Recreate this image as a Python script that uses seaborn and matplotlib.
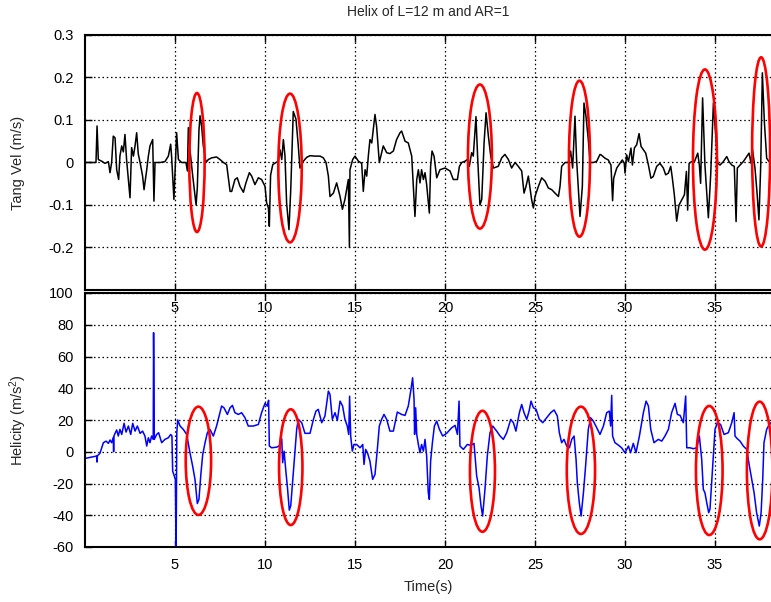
import matplotlib
matplotlib.use("Agg")
import matplotlib.pyplot as plt
from matplotlib.patches import Ellipse
import numpy as np
import pandas as pd
import seaborn as sns

# Tangential velocity record (m/s) against time (s)
tang_t = [0.0, 0.61, 0.67, 0.74, 0.93, 1.11, 1.30, 1.39, 1.48, 1.57, 1.67, 1.76, 1.87, 1.94,
          2.04, 2.13, 2.22, 2.31, 2.50, 2.59, 2.69, 2.78, 2.87, 2.96, 3.06, 3.20, 3.28, 3.43,
          3.52, 3.61, 3.76, 3.83, 3.89, 4.17, 4.44, 4.63, 4.76, 4.81, 4.94, 5.09, 5.19, 5.37,
          5.61, 5.69, 5.74, 5.83, 5.98, 6.17, 6.24, 6.33, 6.39, 6.48, 6.57, 6.72, 6.85, 7.04,
          7.31, 7.50, 7.69, 7.87, 8.06, 8.15, 8.33, 8.46, 8.61, 8.80, 8.94, 9.13, 9.26, 9.44,
          9.63, 9.81, 10.0, 10.09, 10.19, 10.24, 10.31, 10.43, 10.61, 10.74, 10.83, 10.93,
          11.02, 11.11, 11.20, 11.33, 11.43, 11.57, 11.72, 11.85, 11.94, 12.13, 12.31, 12.5,
          12.78, 13.06, 13.24, 13.39, 13.52, 13.61, 13.80, 13.98, 14.17, 14.30, 14.44, 14.63,
          14.69, 14.72, 14.87, 15.0, 15.19, 15.37, 15.46, 15.56, 15.65, 15.74, 15.83, 15.93,
          16.11, 16.20, 16.35, 16.57, 16.76, 16.94, 17.13, 17.31, 17.50, 17.59, 17.78, 17.96,
          18.15, 18.24, 18.33, 18.43, 18.52, 18.61, 18.70, 18.80, 18.89, 18.98, 19.13, 19.20,
          19.28, 19.39, 19.54, 19.72, 20.0, 20.28, 20.46, 20.69, 20.80, 20.93, 21.11, 21.24,
          21.35, 21.48, 21.57, 21.72, 21.81, 21.94, 22.04, 22.17, 22.28, 22.41, 22.54, 22.69,
          22.96, 23.15, 23.33, 23.52, 23.70, 23.89, 24.07, 24.26, 24.39, 24.50, 24.63, 24.81,
          24.91, 25.0, 25.19, 25.37, 25.56, 25.74, 25.93, 26.11, 26.30, 26.39, 26.48, 26.67,
          26.85, 26.98, 27.09, 27.22, 27.31, 27.50, 27.63, 27.72, 27.83, 27.96, 28.06, 28.24,
          28.43, 28.61, 28.67, 28.89, 29.07, 29.22, 29.31, 29.37, 29.54, 29.72, 29.85, 29.96,
          30.0, 30.09, 30.19, 30.33, 30.41, 30.52, 30.65, 30.78, 30.89, 31.02, 31.15, 31.30,
          31.44, 31.57, 31.76, 31.94, 32.13, 32.26, 32.41, 32.54, 32.63, 32.74, 32.87, 33.0,
          33.15, 33.30, 33.41, 33.48, 33.56, 33.70, 33.85, 34.04, 34.13, 34.20, 34.31, 34.44,
          34.63, 34.76, 34.91, 35.04, 35.15, 35.28, 35.46, 35.65, 35.78, 35.93, 36.07, 36.17,
          36.24, 36.39, 36.57, 36.76, 36.89, 37.0, 37.07, 37.22, 37.33, 37.44, 37.54, 37.63,
          37.74, 37.87, 38.0, 38.15]
tang_v = [0.0, 0.0, 0.086, 0.007, 0.003, -0.002, 0.002, -0.024, 0.0, 0.062, 0.058, -0.017, -0.040, 0.015,
          0.039, 0.025, 0.066, 0.007, -0.083, 0.035, 0.015, 0.039, 0.070, 0.020, 0.0, -0.032, -0.064, -0.017,
          0.015, 0.039, 0.054, -0.091, 0.0, 0.0, 0.002, 0.015, 0.043, 0.015, -0.087, 0.070, 0.007, 0.0,
          0.0, -0.020, 0.082, 0.030, -0.030, -0.100, -0.060, 0.075, 0.110, 0.085, 0.040, 0.0, 0.007, 0.011,
          0.013, 0.007, 0.0, -0.005, -0.068, -0.068, -0.040, -0.036, -0.056, -0.070, -0.048, -0.024, -0.032, -0.052,
          -0.036, -0.040, -0.056, -0.095, -0.107, -0.150, -0.030, -0.005, 0.0, 0.003, 0.030, 0.007,
          0.054, 0.015, -0.095, -0.158, -0.064, 0.120, 0.102, 0.039, -0.013, 0.003, 0.012, 0.016,
          0.015, 0.015, 0.011, 0.0, -0.032, -0.080, -0.072, -0.048, -0.080, -0.110, -0.087, -0.040,
          -0.200, -0.017, 0.007, 0.015, 0.003, -0.002, -0.068, -0.017, -0.032, 0.015, 0.054, 0.046,
          0.113, 0.085, 0.0, 0.039, 0.023, 0.021, 0.027, 0.054, 0.070, 0.074, 0.050, 0.046,
          0.015, -0.056, -0.127, -0.040, -0.017, -0.048, -0.017, -0.040, -0.024, -0.052, -0.119, -0.009,
          0.027, 0.015, -0.036, -0.017, -0.013, -0.020, -0.040, -0.040, -0.009, 0.0, 0.003, 0.007,
          -0.009, 0.023, 0.015, 0.108, 0.015, -0.100, -0.087, 0.046, 0.117, 0.062, 0.015, -0.013,
          -0.009, 0.011, 0.019, 0.007, -0.013, 0.0, -0.009, -0.020, -0.072, -0.056, -0.032, -0.087,
          -0.107, -0.080, -0.056, -0.036, -0.044, -0.060, -0.064, -0.072, -0.080, -0.056, -0.009, 0.0,
          0.0, 0.027, -0.013, 0.109, 0.007, -0.127, -0.056, 0.140, 0.109, 0.054, 0.0, 0.0,
          0.003, 0.019, 0.018, 0.010, 0.006, -0.006, -0.090, -0.037, -0.013, -0.002, 0.006, -0.002,
          -0.025, 0.018, 0.002, 0.034, -0.006, 0.034, 0.042, 0.068, 0.038, 0.030, 0.022, -0.006,
          -0.037, -0.033, -0.009, -0.002, -0.013, -0.029, -0.025, -0.009, -0.037, -0.076, -0.138, -0.100,
          -0.088, -0.076, -0.021, -0.112, -0.002, 0.002, 0.001, 0.022, -0.006, -0.049, 0.152, -0.006,
          -0.130, -0.029, 0.140, 0.065, -0.002, -0.006, 0.002, 0.014, 0.002, -0.006, -0.009, -0.139,
          -0.013, -0.006, 0.002, 0.014, 0.022, -0.002, 0.034, -0.013, -0.069, -0.135, -0.006, 0.211,
          0.097, 0.010, 0.002, 0.009]

# Helicity record (m/s^2) against time (s)
heli_t = [0.0, 0.65, 0.67, 0.69, 0.83, 1.02, 1.17, 1.30, 1.39, 1.48, 1.57, 1.59, 1.61, 1.67, 1.76,
          1.85, 1.94, 2.04, 2.17, 2.28, 2.41, 2.54, 2.65, 2.78, 2.91, 3.06, 3.20, 3.33, 3.43,
          3.52, 3.61, 3.70, 3.79, 3.81, 3.85, 3.98, 4.09, 4.26, 4.44, 4.63, 4.76, 4.83, 4.87,
          4.96, 5.02, 5.06, 5.10, 5.15, 5.28, 5.46, 5.65, 5.83, 5.98, 6.11, 6.24, 6.33, 6.44,
          6.54, 6.67, 6.80, 6.94, 7.13, 7.31, 7.59, 7.72, 7.91, 8.06, 8.19, 8.33, 8.52, 8.70,
          8.89, 9.07, 9.35, 9.63, 9.81, 10.0, 10.13, 10.20, 10.24, 10.37, 10.65, 10.83, 10.93,
          10.98, 11.06, 11.17, 11.24, 11.35, 11.43, 11.54, 11.67, 11.76, 11.85, 12.04, 12.22,
          12.5, 12.69, 12.83, 12.96, 13.15, 13.33, 13.52, 13.61, 13.74, 13.89, 14.02, 14.17,
          14.31, 14.44, 14.57, 14.65, 14.70, 14.76, 14.85, 14.94, 15.09, 15.28, 15.43, 15.50,
          15.59, 15.69, 15.83, 15.98, 16.11, 16.24, 16.35, 16.48, 16.61, 16.76, 16.94, 17.13,
          17.35, 17.59, 17.78, 17.96, 18.11, 18.20, 18.28, 18.31, 18.37, 18.43, 18.52, 18.61,
          18.70, 18.80, 18.89, 18.98, 19.07, 19.13, 19.20, 19.30, 19.41, 19.54, 19.69, 19.87,
          20.09, 20.37, 20.56, 20.69, 20.78, 20.83, 21.02, 21.24, 21.43, 21.61, 21.76, 21.89,
          22.0, 22.09, 22.22, 22.35, 22.5, 22.65, 22.87, 23.06, 23.24, 23.43, 23.65, 23.80,
          23.94, 24.13, 24.26, 24.39, 24.54, 24.67, 24.78, 24.91, 25.06, 25.24, 25.43, 25.65,
          25.87, 26.06, 26.24, 26.35, 26.48, 26.61, 26.76, 26.91, 27.04, 27.17, 27.28, 27.35,
          27.46, 27.56, 27.69, 27.81, 27.96, 28.09, 28.24, 28.43, 28.61, 28.80, 28.98, 29.13,
          29.20, 29.26, 29.31, 29.44, 29.63, 29.81, 30.0, 30.19, 30.31, 30.46, 30.61, 30.80,
          31.02, 31.17, 31.30, 31.43, 31.61, 31.85, 32.04, 32.22, 32.41, 32.59, 32.78, 32.91,
          33.06, 33.24, 33.37, 33.43, 33.61, 33.80, 33.98, 34.13, 34.26, 34.35, 34.44, 34.54,
          34.65, 34.72, 34.87, 35.0, 35.13, 35.31, 35.50, 35.74, 35.93, 36.06, 36.11, 36.24,
          36.39, 36.57, 36.76, 36.91, 37.04, 37.17, 37.31, 37.46, 37.56, 37.65, 37.72, 37.87,
          38.06, 38.15]
heli_h = [-4.2, -2.7, -6.5, -2.5, -1.0, 5.7, 6.7, 5.3, 7.4, 5.7, 9.0, 0.0, 10.0, 11.6, 13.7,
          9.9, 14.1, 10.9, 17.9, 12.4, 16.2, 10.9, 17.9, 13.0, 16.2, 11.6, 13.0, 9.9, 3.6,
          8.8, 5.7, 9.9, 7.8, 75.0, 7.8, 10.9, 12.0, 5.7, 7.8, 8.8, 10.9, 9.9, -12.2,
          -15.3, -17.4, -65.0, 12.0, 20.0, 16.2, 14.1, 10.9, -0.6, -9.0, -17.4, -32.6, -30.0, -13.7,
          -1.7, 5.7, 12.0, 14.1, 9.9, 16.2, 28.8, 27.7, 23.5, 27.7, 29.2, 24.6, 23.5, 24.6,
          21.4, 16.2, 16.2, 17.2, 24.6, 30.5, 28.8, 32.4, 3.6, 2.5, 2.9, 4.0, 8.2,
          -6.9, 0.4, -13.7, -21.6, -36.8, -34.0, -17.9, 1.0, 14.1, 20.4, 18.3, 11.6,
          11.6, 20.4, 25.6, 26.7, 18.3, 22.5, 38.2, 36.1, 20.4, 24.6, 19.7, 31.9,
          28.8, 20.4, 16.2, 10.9, 35.0, 9.9, 0.4, 4.6, 4.6, 2.5, 4.6, -8.0,
          1.5, -0.6, -5.9, -17.4, -14.3, 1.5, 16.2, 20.4, 23.5, 20.4, 13.0, 13.0,
          25.0, 23.5, 22.9, 28.8, 39.3, 46.6, 33.0, 10.9, 27.7, 10.9, 4.6, -0.6,
          4.6, 0.4, 7.8, -2.7, -25.8, -30.0, -5.9, 5.7, 16.2, 19.3, 14.1, 9.9,
          11.6, 15.1, 16.6, 10.9, 31.9, 3.6, 1.5, 4.6, 4.0, 5.3, -15.3, -22.7,
          -34.2, -40.5, -23.7, -2.7, 12.0, 16.2, 13.0, 9.9, 7.8, 12.0, 20.4, 18.3,
          13.0, 24.6, 29.8, 24.6, 20.4, 25.6, 31.9, 27.7, 26.7, 20.4, 18.3, 21.4,
          24.6, 26.3, 22.5, 12.0, 5.7, 7.8, 3.6, 2.5, 7.8, 9.9, -4.8, -19.5,
          -32.1, -40.5, -25.8, -9.0, 14.1, 21.4, 19.3, 15.1, 10.9, 16.2, 24.6, 25.6,
          16.2, 35.5, 9.9, 5.7, 4.2, 2.5, -0.6, 3.6, -0.6, 5.3, -0.6, 9.9,
          24.6, 31.9, 28.8, 14.1, 5.7, 7.8, 6.7, 9.9, 14.1, 24.6, 30.5, 23.5,
          22.9, 18.3, 35.1, 2.5, 2.5, 1.9, 2.5, 9.9, -4.8, -23.7, -25.8, -32.1,
          -38.4, -36.1, -9.0, 14.1, 18.3, 17.2, 10.9, 12.0, 18.3, 24.6, 9.9, 8.2,
          6.7, 3.6, 1.5, -9.0, -17.4, -25.8, -38.4, -46.8, -38.4, -17.4, 5.7, 14.1,
          18.3, 17.0]

# Highlighted vortex passages: centre time, value and extent of each ring
vel_ring_t = [6.22, 11.39, 21.94, 27.47, 34.44, 37.56]
vel_ring_v = [0.0, -0.013, 0.014, 0.009, 0.007, 0.025]
vel_ring_w = [0.85, 1.30, 1.33, 1.17, 1.33, 1.0]
vel_ring_h = [0.327, 0.35, 0.339, 0.367, 0.424, 0.445]

heli_ring_t = [6.30, 11.43, 22.08, 27.55, 34.68, 37.48]
heli_ring_h = [-5.7, -9.7, -12.3, -11.7, -11.8, -11.8]
heli_ring_w = [1.41, 1.30, 1.39, 1.57, 1.48, 1.42]
heli_ring_ht = [68.2, 72.9, 76.2, 80.2, 81.3, 86.7]

time_ticks = [5, 10, 15, 20, 25, 30, 35]
vel_ticks = [-0.2, -0.1, 0, 0.1, 0.2, 0.3]
heli_ticks = [-60, -40, -20, 0, 20, 40, 60, 80, 100]

sns.set_theme(style="white")
plt.rcParams["font.family"] = ["Liberation Sans", "DejaVu Sans"]
plt.rcParams["mathtext.fontset"] = "custom"
plt.rcParams["mathtext.rm"] = "Liberation Sans"
plt.rcParams["mathtext.it"] = "Liberation Sans"

fig = plt.figure(figsize=(7.71, 6.02), dpi=100)
fig.patch.set_facecolor("white")

ax2 = fig.add_axes([85 / 771, 1 - 547 / 602, 686 / 771, 254 / 602])
ax1 = fig.add_axes([85 / 771, 1 - 290 / 602, 686 / 771, 255 / 602])
ax1.set_zorder(3)
ax1.patch.set_alpha(0)

vel_df = pd.DataFrame({"t": tang_t, "v": tang_v})
heli_df = pd.DataFrame({"t": heli_t, "h": heli_h})

sns.lineplot(data=vel_df, x="t", y="v", ax=ax1, color="black", lw=1.1,
             estimator=None, sort=False)
sns.lineplot(data=heli_df, x="t", y="h", ax=ax2, color="#0000ff", lw=1.1,
             estimator=None, sort=False)

for t, v, w, h in zip(vel_ring_t, vel_ring_v, vel_ring_w, vel_ring_h):
    ax1.add_patch(Ellipse((t, v), w, h, fill=False, edgecolor="#ff0000", lw=1.9, zorder=4))
for t, v, w, h in zip(heli_ring_t, heli_ring_h, heli_ring_w, heli_ring_ht):
    ax2.add_patch(Ellipse((t, v), w, h, fill=False, edgecolor="#ff0000", lw=1.9, zorder=4))

grid_kw = dict(color="black", lw=0.9, linestyle=(0, (1.2, 2.2)))
for ax, ticks in ((ax1, vel_ticks), (ax2, heli_ticks)):
    ax.set_xlim(0, 38.11)
    ax.set_xticks(time_ticks)
    ax.set_yticks(ticks)
    ax.grid(True, **grid_kw)
    ax.set_axisbelow(True)
    for side in ("left", "top", "bottom"):
        ax.spines[side].set_visible(True)
        ax.spines[side].set_color("black")
        ax.spines[side].set_linewidth(1.5)
    ax.spines["right"].set_visible(False)
    ax.tick_params(axis="both", direction="in", length=5, width=1, colors="black",
                   labelsize=10.5, pad=8, top=True, bottom=True, left=True)
    ax.set_xlabel("")

ax1.set_ylim(-0.3, 0.3)
ax1.set_yticklabels(["-0.2", "-0.1", "0", "0.1", "0.2", "0.3"])
ax2.set_ylim(-60, 100)
ax2.set_yticklabels([str(v) for v in heli_ticks])
ax1.set_xticklabels([str(v) for v in time_ticks])
ax2.set_xticklabels([str(v) for v in time_ticks])

ax1.set_ylabel("Tang Vel (m/s)", fontsize=10.5)
ax2.set_ylabel("Helicity (m/s$^2$)", fontsize=10.5)
ax2.set_xlabel("Time(s)", fontsize=10.5, labelpad=6)
ax1.yaxis.set_label_coords(-0.0875, 0.5)
ax2.yaxis.set_label_coords(-0.082, 0.5)
fig.text(428 / 771, 1 - 12 / 602, "Helix of L=12 m and AR=1", ha="center", va="center",
         fontsize=10)

fig.savefig("out.png", dpi=100, facecolor="white")
